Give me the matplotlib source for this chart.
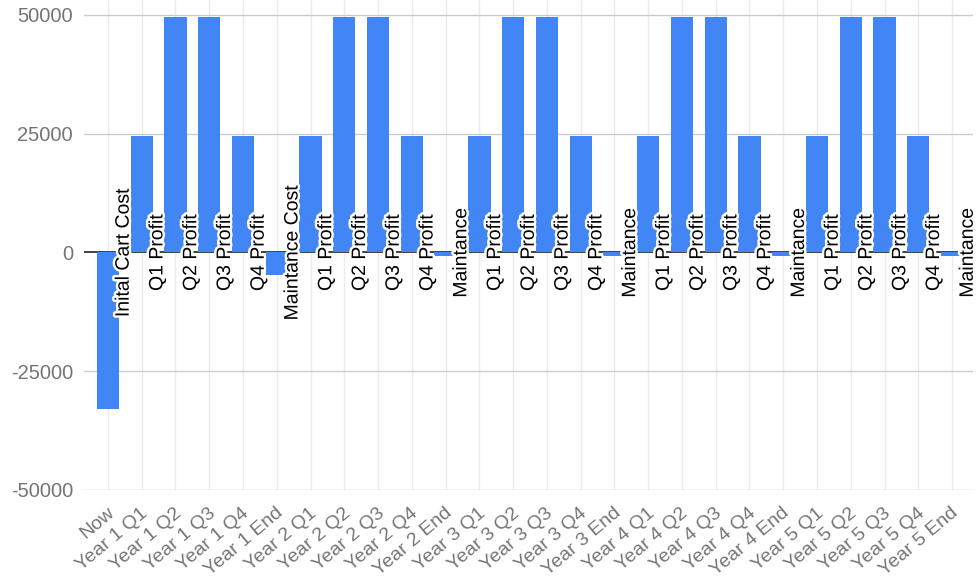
import matplotlib
matplotlib.use("Agg")
import matplotlib.pyplot as plt
import matplotlib.patheffects as pe
from matplotlib.transforms import ScaledTranslation

plt.rcParams["font.family"] = ["Liberation Sans", "DejaVu Sans"]

categories = [
    "Now",
    "Year 1 Q1", "Year 1 Q2", "Year 1 Q3", "Year 1 Q4", "Year 1 End",
    "Year 2 Q1", "Year 2 Q2", "Year 2 Q3", "Year 2 Q4", "Year 2 End",
    "Year 3 Q1", "Year 3 Q2", "Year 3 Q3", "Year 3 Q4", "Year 3 End",
    "Year 4 Q1", "Year 4 Q2", "Year 4 Q3", "Year 4 Q4", "Year 4 End",
    "Year 5 Q1", "Year 5 Q2", "Year 5 Q3", "Year 5 Q4", "Year 5 End",
]

values = [
    -33000,
    24500, 49500, 49500, 24500, -4800,
    24500, 49500, 49500, 24500, -800,
    24500, 49500, 49500, 24500, -800,
    24500, 49500, 49500, 24500, -800,
    24500, 49500, 49500, 24500, -800,
]

annotations = [
    "Inital Cart Cost",
    "Q1 Profit", "Q2 Profit", "Q3 Profit", "Q4 Profit", "Maintance Cost",
    "Q1 Profit", "Q2 Profit", "Q3 Profit", "Q4 Profit", "Maintance",
    "Q1 Profit", "Q2 Profit", "Q3 Profit", "Q4 Profit", "Maintance",
    "Q1 Profit", "Q2 Profit", "Q3 Profit", "Q4 Profit", "Maintance",
    "Q1 Profit", "Q2 Profit", "Q3 Profit", "Q4 Profit", "Maintance",
]

y_ticks = [-50000, -25000, 0, 25000, 50000]

BAR_COLOR = "#4285F4"

W, H = 977, 579
fig = plt.figure(figsize=(W / 100, H / 100), dpi=100)
ax = fig.add_axes([84 / W, 1 - 490 / H, (973 - 84) / W, 490 / H])

x = list(range(len(categories)))
ax.set_xlim(-0.71, 25.62)
ax.set_ylim(-50000, 50000 + 15 * 1000 / 4.75)

# grid
for xi in x:
    ax.axvline(xi, color="#ebebeb", lw=1.0, zorder=0)
for yt in y_ticks:
    if yt != 0:
        ax.axhline(yt, color="#cccccc", lw=1.0, zorder=0.5)
ax.axhline(0, color="#333333", lw=1.3, zorder=1)

ax.bar(x, values, width=0.66, color=BAR_COLOR, linewidth=0, zorder=2)

# rotated annotation next to each bar
for xi, txt in zip(x, annotations):
    ax.text(xi + 0.48, 0, txt, rotation=90, ha="center", va="center",
            fontsize=14, color="#000000", zorder=3, clip_on=False,
            path_effects=[pe.withStroke(linewidth=3.5, foreground="white")])

for s in ax.spines.values():
    s.set_visible(False)

ax.set_yticks(y_ticks)
ax.set_yticklabels([str(v) for v in y_ticks], fontsize=14.5, color="#757575")
ax.tick_params(axis="y", length=0, pad=8)

ax.set_xticks(x)
ax.set_xticklabels(categories, rotation=40, ha="right", va="center",
                   rotation_mode="anchor", fontsize=14, color="#757575")
ax.tick_params(axis="x", length=0, pad=15)
offset = ScaledTranslation(4 / 100, 0, fig.dpi_scale_trans)
for lbl in ax.get_xticklabels():
    lbl.set_transform(lbl.get_transform() + offset)

fig.savefig("out.png", dpi=100, facecolor="white")
